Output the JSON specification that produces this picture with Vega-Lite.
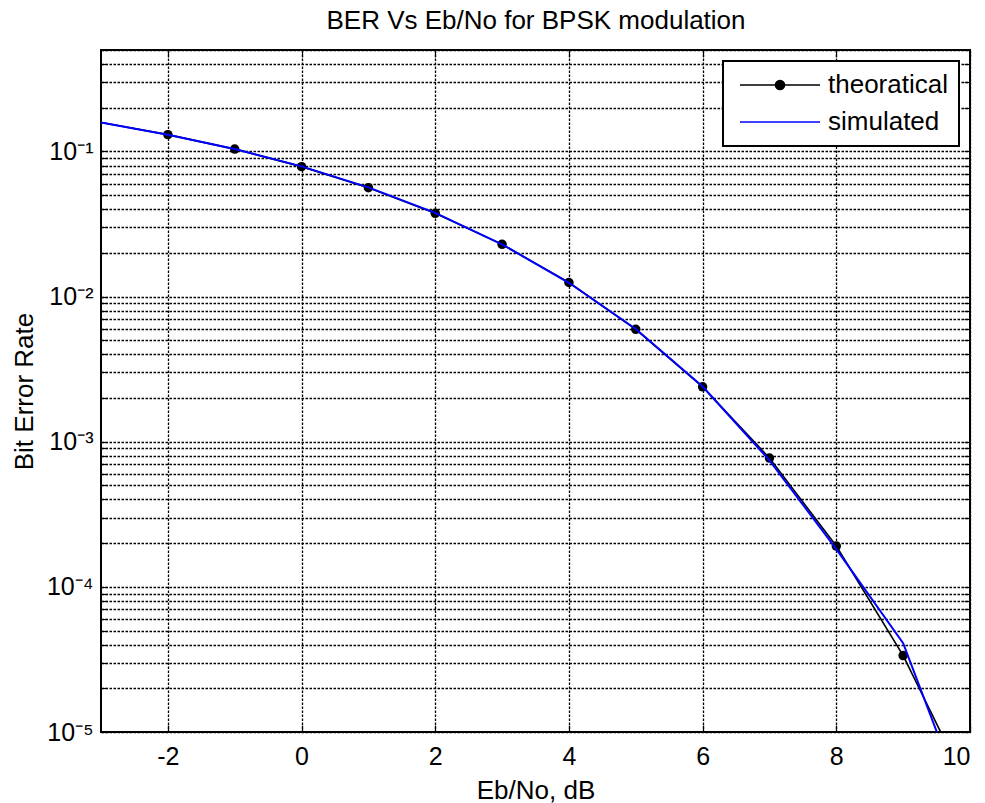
{
  "$schema": "https://vega.github.io/schema/vega-lite/v6.json",
  "autosize": {"type": "none"},
  "width": 869,
  "height": 682,
  "padding": {"left": 101, "top": 50, "right": 15, "bottom": 71},
  "background": "white",
  "config": {
    "view": {"stroke": "black", "strokeWidth": 2},
    "font": "Liberation Sans, Arial, sans-serif",
    "axis": {
      "labelFont": "Liberation Sans, Arial, sans-serif",
      "titleFont": "Liberation Sans, Arial, sans-serif",
      "labelColor": "black",
      "titleColor": "black",
      "titleFontWeight": "normal",
      "labelFontSize": 25,
      "titleFontSize": 26,
      "domain": false,
      "gridColor": "black",
      "gridDash": [2.5, 1.5],
      "gridWidth": 1.3,
      "gridOpacity": 1,
      "tickColor": "black",
      "tickWidth": 1.2
    }
  },
  "data": {
    "values": [
      {"x": -3, "ber": 0.1584, "series": "theoratical"},
      {"x": -2, "ber": 0.1306, "series": "theoratical"},
      {"x": -1, "ber": 0.1038, "series": "theoratical"},
      {"x": 0, "ber": 0.0786, "series": "theoratical"},
      {"x": 1, "ber": 0.0563, "series": "theoratical"},
      {"x": 2, "ber": 0.0375, "series": "theoratical"},
      {"x": 3, "ber": 0.0229, "series": "theoratical"},
      {"x": 4, "ber": 0.0125, "series": "theoratical"},
      {"x": 5, "ber": 0.00595, "series": "theoratical"},
      {"x": 6, "ber": 0.00239, "series": "theoratical"},
      {"x": 7, "ber": 0.000772, "series": "theoratical"},
      {"x": 8, "ber": 0.000191, "series": "theoratical"},
      {"x": 9, "ber": 0.0000336, "series": "theoratical"},
      {"x": 10, "ber": 0.00000387, "series": "theoratical"},
      {"x": -3, "ber": 0.1586, "series": "simulated"},
      {"x": -2, "ber": 0.1302, "series": "simulated"},
      {"x": -1, "ber": 0.1040, "series": "simulated"},
      {"x": 0, "ber": 0.0789, "series": "simulated"},
      {"x": 1, "ber": 0.0566, "series": "simulated"},
      {"x": 2, "ber": 0.0377, "series": "simulated"},
      {"x": 3, "ber": 0.0229, "series": "simulated"},
      {"x": 4, "ber": 0.01245, "series": "simulated"},
      {"x": 5, "ber": 0.00598, "series": "simulated"},
      {"x": 6, "ber": 0.00240, "series": "simulated"},
      {"x": 7, "ber": 0.000745, "series": "simulated"},
      {"x": 8, "ber": 0.000182, "series": "simulated"},
      {"x": 9, "ber": 0.0000409, "series": "simulated"},
      {"x": 10, "ber": 0.0000025, "series": "simulated"}
    ]
  },
  "layer": [
    {
      "transform": [{"filter": "datum.series === 'theoratical'"}],
      "mark": {"type": "line", "strokeWidth": 1.6, "clip": true},
      "encoding": {
        "x": {
          "field": "x", "type": "quantitative",
          "scale": {"domain": [-3, 10], "nice": false, "zero": false},
          "axis": {
            "values": [-2, 0, 2, 4, 6, 8, 10],
            "labelExpr": "datum.value + ''",
            "title": "Eb/No, dB",
            "grid": true,
            "tickSize": -7,
            "labelPadding": 19,
            "titleBaseline": "alphabetic",
            "titleY": 66
          }
        },
        "y": {
          "field": "ber", "type": "quantitative",
          "scale": {"type": "log", "domain": [0.00001, 0.5], "nice": false},
          "axis": {
            "values": [0.00001, 0.00002, 0.00003, 0.00004, 0.00005, 0.00006, 0.00007, 0.00008, 0.00009,
                       0.0001, 0.0002, 0.0003, 0.0004, 0.0005, 0.0006, 0.0007, 0.0008, 0.0009,
                       0.001, 0.002, 0.003, 0.004, 0.005, 0.006, 0.007, 0.008, 0.009,
                       0.01, 0.02, 0.03, 0.04, 0.05, 0.06, 0.07, 0.08, 0.09,
                       0.1, 0.2, 0.3, 0.4, 0.5],
            "labelExpr": "abs(log(datum.value)/LN10 - round(log(datum.value)/LN10)) < 0.000001 ? (round(log(datum.value)/LN10) == -1 ? '10⁻¹' : round(log(datum.value)/LN10) == -2 ? '10⁻²' : round(log(datum.value)/LN10) == -3 ? '10⁻³' : round(log(datum.value)/LN10) == -4 ? '10⁻⁴' : '10⁻⁵') : ''",
            "title": "Bit Error Rate",
            "grid": true,
            "tickSize": -6,
            "labelPadding": 14,
            "titleBaseline": "alphabetic",
            "titleX": -69,
            "titleY": 341,
            "labelFlush": false,
            "labelOverlap": false
          }
        },
        "color": {
          "field": "series", "type": "nominal",
          "scale": {"domain": ["theoratical", "simulated"], "range": ["#000000", "#0000ff"]},
          "legend": {
            "title": null,
            "orient": "top-right",
            "offset": 11,
            "padding": 11,
            "rowPadding": 11,
            "labelFontSize": 26,
            "labelFont": "Liberation Sans, Arial, sans-serif",
            "labelColor": "black",
            "labelOffset": 68,
            "labelLimit": 400,
            "symbolSize": 100,
            "symbolStrokeWidth": 1.6,
            "strokeColor": "black",
            "fillColor": "white",
            "encode": {
              "legend": {"update": {"strokeWidth": {"value": 2}}},
              "symbols": {
                "update": {
                  "shape": {"signal": "datum.value === 'theoratical' ? 'M-1.4,0L14.6,0M5.7,0A0.9,0.9 0 1,0 7.5,0A0.9,0.9 0 1,0 5.7,0Z' : 'M-1.4,0L14.6,0'"},
                  "fill": {"signal": "datum.value === 'theoratical' ? 'black' : 'transparent'"}
                }
              }
            }
          }
        }
      }
    },
    {
      "transform": [
        {"filter": "datum.series === 'theoratical'"},
        {"filter": {"field": "x", "range": [-2, 9]}}
      ],
      "mark": {"type": "point", "filled": true, "size": 90, "opacity": 1, "color": "black"},
      "encoding": {
        "x": {"field": "x", "type": "quantitative", "axis": null},
        "y": {"field": "ber", "type": "quantitative", "axis": null}
      }
    },
    {
      "transform": [{"filter": "datum.series === 'simulated'"}],
      "mark": {"type": "line", "strokeWidth": 2, "clip": true},
      "encoding": {
        "x": {
          "field": "x", "type": "quantitative",
          "axis": {
            "orient": "top",
            "values": [-2, 0, 2, 4, 6, 8, 10],
            "labels": false,
            "title": "BER Vs Eb/No for BPSK modulation",
            "titleFontSize": 26,
            "titleBaseline": "alphabetic",
            "titleY": -22,
            "grid": false,
            "tickSize": -7,
            "minExtent": 0,
            "maxExtent": 0
          }
        },
        "y": {
          "field": "ber", "type": "quantitative",
          "axis": {
            "orient": "right",
            "values": [0.00001, 0.00002, 0.00003, 0.00004, 0.00005, 0.00006, 0.00007, 0.00008, 0.00009,
                       0.0001, 0.0002, 0.0003, 0.0004, 0.0005, 0.0006, 0.0007, 0.0008, 0.0009,
                       0.001, 0.002, 0.003, 0.004, 0.005, 0.006, 0.007, 0.008, 0.009,
                       0.01, 0.02, 0.03, 0.04, 0.05, 0.06, 0.07, 0.08, 0.09,
                       0.1, 0.2, 0.3, 0.4, 0.5],
            "labels": false, "title": null, "grid": false, "tickSize": -6, "minExtent": 0, "maxExtent": 0
          }
        },
        "color": {"field": "series", "type": "nominal"}
      }
    }
  ],
  "resolve": {"axis": {"x": "independent", "y": "independent"}}
}
